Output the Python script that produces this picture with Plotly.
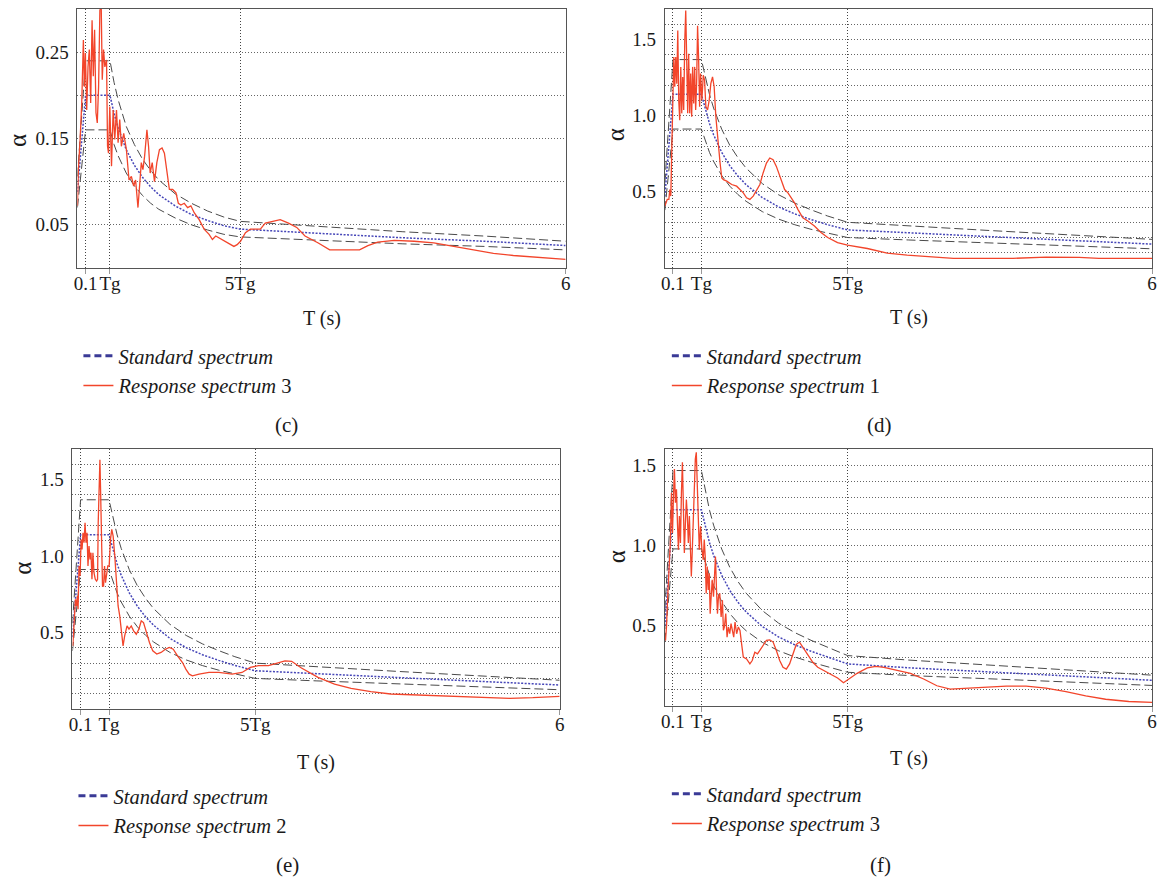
import plotly.graph_objects as go

# ---------------- data ----------------
# Standard spectrum and +/-20% envelopes, panel (c): Tg = 0.4 s
T_STD_C = [0, 0.1, 0.4, 0.45, 0.5, 0.55, 0.6, 0.7, 0.8, 0.9, 1.0, 1.2, 1.4, 1.6, 1.8, 2.0, 3.0, 4.0, 5.0, 6.0]
STD_C = [0.088, 0.2, 0.2, 0.179, 0.1625, 0.149, 0.137, 0.119, 0.105, 0.094, 0.085, 0.072, 0.062, 0.055, 0.049, 0.045, 0.040, 0.035, 0.031, 0.026]
UP_C = [0.106, 0.24, 0.24, 0.215, 0.195, 0.179, 0.164, 0.143, 0.126, 0.113, 0.102, 0.086, 0.075, 0.066, 0.059, 0.054, 0.048, 0.042, 0.037, 0.031]
LO_C = [0.070, 0.16, 0.16, 0.143, 0.130, 0.119, 0.110, 0.095, 0.084, 0.075, 0.068, 0.058, 0.050, 0.044, 0.039, 0.036, 0.032, 0.028, 0.025, 0.021]

# Standard spectrum and envelopes, panels (d), (e), (f): Tg = 0.45 s
T_STD_45 = [0, 0.1, 0.45, 0.5, 0.55, 0.6, 0.7, 0.8, 0.9, 1.0, 1.2, 1.4, 1.6, 1.8, 2.0, 2.25, 3.0, 4.0, 5.0, 6.0]
STD_DE = [0.47, 1.14, 1.14, 1.035, 0.948, 0.875, 0.759, 0.671, 0.603, 0.547, 0.462, 0.401, 0.355, 0.318, 0.285, 0.25, 0.23, 0.205, 0.181, 0.157]
UP_DE = [0.56, 1.368, 1.368, 1.242, 1.138, 1.05, 0.911, 0.805, 0.724, 0.656, 0.554, 0.481, 0.426, 0.382, 0.342, 0.30, 0.276, 0.246, 0.217, 0.188]
LO_DE = [0.38, 0.912, 0.912, 0.828, 0.758, 0.70, 0.607, 0.537, 0.482, 0.438, 0.37, 0.321, 0.284, 0.254, 0.228, 0.20, 0.184, 0.164, 0.145, 0.126]
STD_F = [0.50, 1.222, 1.222, 1.11, 1.016, 0.938, 0.814, 0.719, 0.646, 0.586, 0.495, 0.43, 0.381, 0.341, 0.305, 0.262, 0.238, 0.212, 0.186, 0.16]
UP_F = [0.60, 1.466, 1.466, 1.332, 1.219, 1.126, 0.977, 0.863, 0.775, 0.703, 0.594, 0.516, 0.457, 0.409, 0.366, 0.314, 0.286, 0.254, 0.223, 0.192]
LO_F = [0.40, 0.978, 0.978, 0.888, 0.813, 0.75, 0.651, 0.575, 0.517, 0.469, 0.396, 0.344, 0.305, 0.273, 0.244, 0.21, 0.19, 0.17, 0.149, 0.128]

# Response spectrum, panel (c)
T_C = [0, 0.012, 0.033, 0.053, 0.073, 0.085, 0.098, 0.114, 0.13, 0.146,
       0.163, 0.18, 0.195, 0.211, 0.228, 0.244, 0.26, 0.276, 0.293, 0.305,
       0.321, 0.337, 0.358, 0.37, 0.382, 0.398, 0.419, 0.439, 0.459, 0.48,
       0.5, 0.52, 0.54, 0.569, 0.602, 0.634, 0.663, 0.691, 0.715, 0.744,
       0.764, 0.785, 0.805, 0.825, 0.854, 0.874, 0.894, 0.919, 0.947, 0.976,
       1.008, 1.04, 1.069, 1.098, 1.13, 1.171, 1.211, 1.24, 1.272, 1.313,
       1.354, 1.394, 1.435, 1.496, 1.557, 1.618, 1.659, 1.7, 1.78, 1.862,
       1.923, 1.963, 2.004, 2.065, 2.126, 2.187, 2.248, 2.309, 2.39, 2.492,
       2.594, 2.695, 2.797, 2.96, 3.10, 3.284, 3.467, 3.57, 3.69, 3.894,
       4.138, 4.38, 4.626, 4.87, 5.113, 5.357, 5.68, 6.0]
V_C = [0.072, 0.114, 0.149, 0.191, 0.264, 0.21, 0.249, 0.183, 0.233, 0.253,
       0.191, 0.287, 0.222, 0.276, 0.18, 0.168, 0.21, 0.299, 0.300, 0.218,
       0.253, 0.233, 0.241, 0.141, 0.133, 0.187, 0.118, 0.183, 0.149, 0.183,
       0.145, 0.172, 0.141, 0.156, 0.137, 0.102, 0.106, 0.095, 0.102, 0.07,
       0.095, 0.122, 0.114, 0.129, 0.16, 0.141, 0.11, 0.122, 0.10, 0.122,
       0.137, 0.139, 0.133, 0.11, 0.091, 0.091, 0.087, 0.075, 0.073, 0.075,
       0.07, 0.072, 0.064, 0.056, 0.045, 0.039, 0.033, 0.037, 0.033, 0.029,
       0.025, 0.027, 0.031, 0.041, 0.045, 0.045, 0.045, 0.052, 0.054, 0.056,
       0.052, 0.047, 0.037, 0.029, 0.021, 0.021, 0.021, 0.026, 0.030, 0.032,
       0.031, 0.029, 0.025, 0.021, 0.017, 0.0145, 0.012, 0.010]

# Response spectrum, panel (d)
T_D = [0.0, 0.029, 0.049, 0.061, 0.073, 0.086, 0.098, 0.11, 0.122, 0.134,
       0.147, 0.159, 0.171, 0.183, 0.196, 0.208, 0.22, 0.232, 0.245, 0.257,
       0.269, 0.281, 0.293, 0.306, 0.318, 0.33, 0.342, 0.355, 0.367, 0.379,
       0.391, 0.403, 0.416, 0.428, 0.44, 0.456, 0.473, 0.489, 0.505, 0.526,
       0.546, 0.566, 0.587, 0.607, 0.628, 0.652, 0.68, 0.701, 0.721, 0.762,
       0.823, 0.884, 0.925, 0.966, 1.006, 1.047, 1.088, 1.129, 1.17, 1.21,
       1.251, 1.292, 1.333, 1.373, 1.414, 1.475, 1.516, 1.557, 1.597, 1.638,
       1.699, 1.76, 1.842, 1.923, 2.005, 2.127, 2.249, 2.494, 2.738, 2.983,
       3.227, 3.553, 3.879, 4.287, 4.694, 5.102, 5.346, 5.713, 6.0]
V_D = [0.406, 0.45, 0.45, 0.515, 0.472, 0.84, 1.124, 1.385, 1.19, 1.385,
       1.21, 1.559, 1.10, 0.97, 1.32, 1.015, 1.254, 1.037, 1.49, 1.69,
       1.363, 1.015, 1.407, 1.015, 1.276, 0.993, 1.32, 1.08, 1.32, 1.037,
       1.21, 1.59, 1.363, 1.059, 1.276, 1.102, 1.265, 1.233, 1.059, 1.037,
       1.102, 1.21, 1.254, 1.19, 0.993, 0.84, 0.689, 0.591, 0.58, 0.57,
       0.548, 0.537, 0.515, 0.493, 0.461, 0.45, 0.472, 0.515, 0.548, 0.624,
       0.689, 0.722, 0.711, 0.667, 0.602, 0.515, 0.493, 0.461, 0.428, 0.385,
       0.33, 0.309, 0.276, 0.233, 0.20, 0.167, 0.15, 0.128, 0.098, 0.085,
       0.076, 0.063, 0.063, 0.063, 0.072, 0.07, 0.063, 0.063, 0.063]

# Response spectrum, panel (e)
T_E = [0.004, 0.02, 0.037, 0.049, 0.061, 0.069, 0.081, 0.094, 0.106, 0.118,
       0.13, 0.142, 0.155, 0.167, 0.179, 0.191, 0.204, 0.216, 0.228, 0.24,
       0.252, 0.265, 0.281, 0.297, 0.309, 0.317, 0.33, 0.338, 0.346, 0.358,
       0.37, 0.383, 0.395, 0.407, 0.419, 0.435, 0.452, 0.468, 0.484, 0.501,
       0.521, 0.541, 0.562, 0.582, 0.602, 0.623, 0.643, 0.672, 0.696, 0.724,
       0.753, 0.786, 0.818, 0.847, 0.875, 0.908, 0.948, 0.989, 1.038, 1.091,
       1.144, 1.193, 1.241, 1.294, 1.355, 1.396, 1.437, 1.477, 1.559, 1.681,
       1.803, 1.966, 2.088, 2.19, 2.291, 2.414, 2.536, 2.617, 2.699, 2.82,
       3.024, 3.227, 3.431, 3.675, 3.919, 4.245, 4.652, 5.058, 5.385, 5.669,
       6.0]
V_E = [0.413, 0.543, 0.717, 0.674, 0.739, 0.652, 0.935, 0.87, 1.109, 1.043,
       1.152, 1.087, 1.217, 1.087, 1.152, 0.935, 1.065, 0.978, 1.022, 0.848,
       1.022, 0.891, 0.848, 0.837, 0.848, 1.217, 1.478, 1.63, 1.435, 1.109,
       0.804, 0.804, 0.935, 0.826, 0.891, 0.935, 0.935, 1.109, 1.174, 1.13,
       1.0, 0.848, 0.674, 0.609, 0.5, 0.413, 0.478, 0.543, 0.522, 0.543,
       0.511, 0.489, 0.522, 0.576, 0.565, 0.5, 0.435, 0.38, 0.359, 0.37,
       0.391, 0.402, 0.391, 0.348, 0.304, 0.261, 0.228, 0.217, 0.228, 0.239,
       0.239, 0.228, 0.239, 0.272, 0.283, 0.283, 0.305, 0.315, 0.312, 0.268,
       0.207, 0.163, 0.135, 0.113, 0.098, 0.091, 0.083, 0.074, 0.07, 0.074,
       0.083]

# Response spectrum, panel (f)
T_F = [0.008, 0.02, 0.033, 0.045, 0.057, 0.069, 0.081, 0.094, 0.106, 0.118,
       0.13, 0.143, 0.155, 0.167, 0.179, 0.192, 0.204, 0.216, 0.228, 0.24,
       0.253, 0.265, 0.277, 0.289, 0.302, 0.314, 0.326, 0.338, 0.35, 0.363,
       0.375, 0.387, 0.399, 0.412, 0.424, 0.44, 0.456, 0.473, 0.485, 0.497,
       0.509, 0.522, 0.534, 0.546, 0.558, 0.57, 0.583, 0.599, 0.611, 0.623,
       0.636, 0.648, 0.66, 0.676, 0.693, 0.709, 0.721, 0.733, 0.75, 0.766,
       0.782, 0.799, 0.815, 0.831, 0.848, 0.864, 0.884, 0.905, 0.925, 0.945,
       0.966, 1.006, 1.047, 1.076, 1.108, 1.141, 1.17, 1.21, 1.251, 1.292,
       1.333, 1.373, 1.414, 1.455, 1.496, 1.536, 1.577, 1.618, 1.658, 1.699,
       1.76, 1.822, 1.883, 1.964, 2.046, 2.127, 2.2, 2.27, 2.372, 2.494,
       2.596, 2.698, 2.861, 3.024, 3.187, 3.35, 3.513, 3.716, 3.961, 4.205,
       4.45, 4.694, 4.939, 5.183, 5.428, 5.713, 6.0]
V_F = [0.408, 0.492, 0.659, 0.764, 0.868, 1.036, 1.328, 1.077, 1.307, 1.475,
       1.266, 1.349, 1.14, 0.973, 1.182, 1.015, 1.328, 1.517, 1.245, 0.952,
       1.14, 1.286, 1.182, 1.015, 1.182, 1.036, 0.806, 0.973, 1.203, 1.433,
       1.537, 1.579, 1.412, 1.119, 0.973, 1.119, 0.973, 0.91, 1.036, 0.931,
       0.701, 0.868, 0.722, 0.826, 0.575, 0.68, 0.785, 0.68, 0.868, 0.931,
       0.722, 0.575, 0.68, 0.701, 0.555, 0.659, 0.471, 0.492, 0.575, 0.429,
       0.492, 0.45, 0.513, 0.471, 0.429, 0.523, 0.45, 0.492, 0.471, 0.387,
       0.304, 0.293, 0.262, 0.283, 0.335, 0.325, 0.345, 0.377, 0.408, 0.412,
       0.398, 0.345, 0.283, 0.241, 0.23, 0.262, 0.325, 0.383, 0.398, 0.366,
       0.314, 0.272, 0.241, 0.22, 0.199, 0.174, 0.145, 0.168, 0.205, 0.237,
       0.247, 0.241, 0.22, 0.203, 0.168, 0.126, 0.105, 0.111, 0.115, 0.124,
       0.124, 0.111, 0.09, 0.063, 0.042, 0.028, 0.023]

X_TICK_TEXT = ["0.1", "Tg", "5Tg", "6"]
Y_TICKS_C = [0.05, 0.10, 0.15, 0.20, 0.25]
Y_TEXT_C = ["0.05", "", "0.15", "", "0.25"]
Y_TICKS_DE = [0.1, 0.2, 0.3, 0.4, 0.5, 0.6, 0.7, 0.8, 0.9, 1.0, 1.1, 1.2, 1.3, 1.4, 1.5, 1.6]
Y_TICKS_F = [0.1, 0.2, 0.3, 0.4, 0.5, 0.6, 0.7, 0.8, 0.9, 1.0, 1.1, 1.2, 1.3, 1.4, 1.5]
Y_LABELED = [0.5, 1.0, 1.5]
RESP_NAMES = ["3", "1", "2", "3"]
CAPTIONS = ["(c)", "(d)", "(e)", "(f)"]

# ---------------- styling / layout ----------------
W, H = 1167, 880
FONT = "Liberation Serif"
RED = "#F2452B"
BLUE = "#4646B8"
NAVY = "#3A3A96"
ENV = "#4a4a4a"
GRID = "#666666"
VGRID = "#444444"
AX = "#555555"
TXT = "#1a1a1a"
FS = 19      # tick labels / axis titles
FS_LEG = 20.5  # legend
FS_CAP = 21  # captions
FS_ALPHA = 25


def fx(p):
    return p / W


def fy(p):
    return 1 - p / H


def ytext(vals):
    return [("%.1f" % v) if any(abs(v - l) < 1e-9 for l in Y_LABELED) else "" for v in vals]


panels = [
    dict(tstd=T_STD_C, std=STD_C, up=UP_C, lo=LO_C, t=T_C, v=V_C, tg=0.4,
         yr=[0, 0.3], yt=Y_TICKS_C, ytt=Y_TEXT_C,
         box=(74, 566, 9, 268), xt=(320, 318), ya=(14, 140), leg=(75, 336), cap=(285, 425)),
    dict(tstd=T_STD_45, std=STD_DE, up=UP_DE, lo=LO_DE, t=T_D, v=V_D, tg=0.45,
         yr=[0, 1.7], yt=Y_TICKS_DE, ytt=ytext(Y_TICKS_DE),
         box=(666, 1157, 9, 268), xt=(912, 317), ya=(616, 135), leg=(668, 336), cap=(882, 425)),
    dict(tstd=T_STD_45, std=STD_DE, up=UP_DE, lo=LO_DE, t=T_E, v=V_E, tg=0.45,
         yr=[0, 1.7], yt=Y_TICKS_DE, ytt=ytext(Y_TICKS_DE),
         box=(69, 560, 449, 709), xt=(314, 762), ya=(18, 568), leg=(70, 776), cap=(286, 865)),
    dict(tstd=T_STD_45, std=STD_F, up=UP_F, lo=LO_F, t=T_F, v=V_F, tg=0.45,
         yr=[0, 1.6], yt=Y_TICKS_F, ytt=ytext(Y_TICKS_F),
         box=(666, 1157, 449, 706), xt=(912, 758), ya=(617, 557), leg=(668, 774), cap=(883, 865)),
]

fig = go.Figure()
annotations = []
layout_extra = {}

for i, p in enumerate(panels):
    n = "" if i == 0 else str(i + 1)
    xa, ya = "x" + n, "y" + n
    lg = "legend" + n
    env_line = dict(color=ENV, width=1, dash="9px,4px")
    fig.add_trace(go.Scatter(x=p["tstd"], y=p["up"], xaxis=xa, yaxis=ya, mode="lines",
                             line=env_line, showlegend=False, hoverinfo="skip"))
    fig.add_trace(go.Scatter(x=p["tstd"], y=p["lo"], xaxis=xa, yaxis=ya, mode="lines",
                             line=env_line, showlegend=False, hoverinfo="skip"))
    fig.add_trace(go.Scatter(x=p["tstd"], y=p["std"], xaxis=xa, yaxis=ya, mode="lines",
                             line=dict(color=BLUE, width=1.5, dash="2px,1.5px"), showlegend=False))
    fig.add_trace(go.Scatter(x=p["t"], y=p["v"], xaxis=xa, yaxis=ya, mode="lines",
                             line=dict(color=RED, width=1.3), showlegend=False))
    # legend entries
    fig.add_trace(go.Scatter(x=[None], y=[None], xaxis=xa, yaxis=ya, mode="lines",
                             name="<i>Standard spectrum</i>", legend=lg,
                             line=dict(color=NAVY, width=3, dash="7px,4px")))
    fig.add_trace(go.Scatter(x=[None], y=[None], xaxis=xa, yaxis=ya, mode="lines",
                             name="<i>Response spectrum</i> " + RESP_NAMES[i], legend=lg,
                             line=dict(color=RED, width=1.3)))

    x0, x1, y0, y1 = p["box"]
    tg = p["tg"]
    layout_extra["xaxis" + n] = dict(
        domain=[fx(x0), fx(x1)], range=[0, 6], anchor=ya,
        tickmode="array", tickvals=[0.1, tg, 5 * tg, 6], ticktext=X_TICK_TEXT,
        tickangle=0, showgrid=True, gridcolor=VGRID, griddash="1px,2px", gridwidth=1,
        showline=True, linecolor=AX, linewidth=1, mirror=True, zeroline=False,
        ticks="outside", ticklen=5, tickcolor="#999999", tickwidth=1,
        ticklabelstandoff=-7,
        tickfont=dict(family=FONT, size=FS, color=TXT), fixedrange=True,
    )
    layout_extra["yaxis" + n] = dict(
        domain=[fy(y1), fy(y0)], range=p["yr"], anchor=xa,
        tickmode="array", tickvals=p["yt"], ticktext=p["ytt"],
        showgrid=True, gridcolor=GRID, griddash="1px,2px", gridwidth=1,
        showline=True, linecolor=AX, linewidth=1, mirror=True, zeroline=False,
        ticks="", ticklabelstandoff=4,
        tickfont=dict(family=FONT, size=FS, color=TXT), fixedrange=True,
    )
    lx, ly = p["leg"]
    layout_extra[lg] = dict(
        x=fx(lx), y=fy(ly), xanchor="left", yanchor="top", xref="paper", yref="paper",
        bgcolor="rgba(0,0,0,0)", borderwidth=0, tracegroupgap=0,
        font=dict(family=FONT, size=FS_LEG, color=TXT),
    )
    annotations.append(dict(x=fx(p["xt"][0]), y=fy(p["xt"][1]), xref="paper", yref="paper",
                            text="T (s)", showarrow=False, xanchor="center", yanchor="middle",
                            font=dict(family=FONT, size=FS + 1, color=TXT)))
    annotations.append(dict(x=fx(p["ya"][0]), y=fy(p["ya"][1]), xref="paper", yref="paper",
                            text="α", showarrow=False, xanchor="center", yanchor="middle",
                            textangle=-90, font=dict(family=FONT, size=FS_ALPHA, color=TXT)))
    annotations.append(dict(x=fx(p["cap"][0]), y=fy(p["cap"][1]), xref="paper", yref="paper",
                            text=CAPTIONS[i], showarrow=False, xanchor="center", yanchor="middle",
                            font=dict(family=FONT, size=FS_CAP, color=TXT)))

fig.update_layout(
    width=W, height=H, margin=dict(l=0, r=0, t=0, b=0),
    paper_bgcolor="white", plot_bgcolor="white",
    showlegend=True, annotations=annotations,
    font=dict(family=FONT, size=FS, color=TXT),
    **layout_extra,
)

fig.write_html("out.html")
